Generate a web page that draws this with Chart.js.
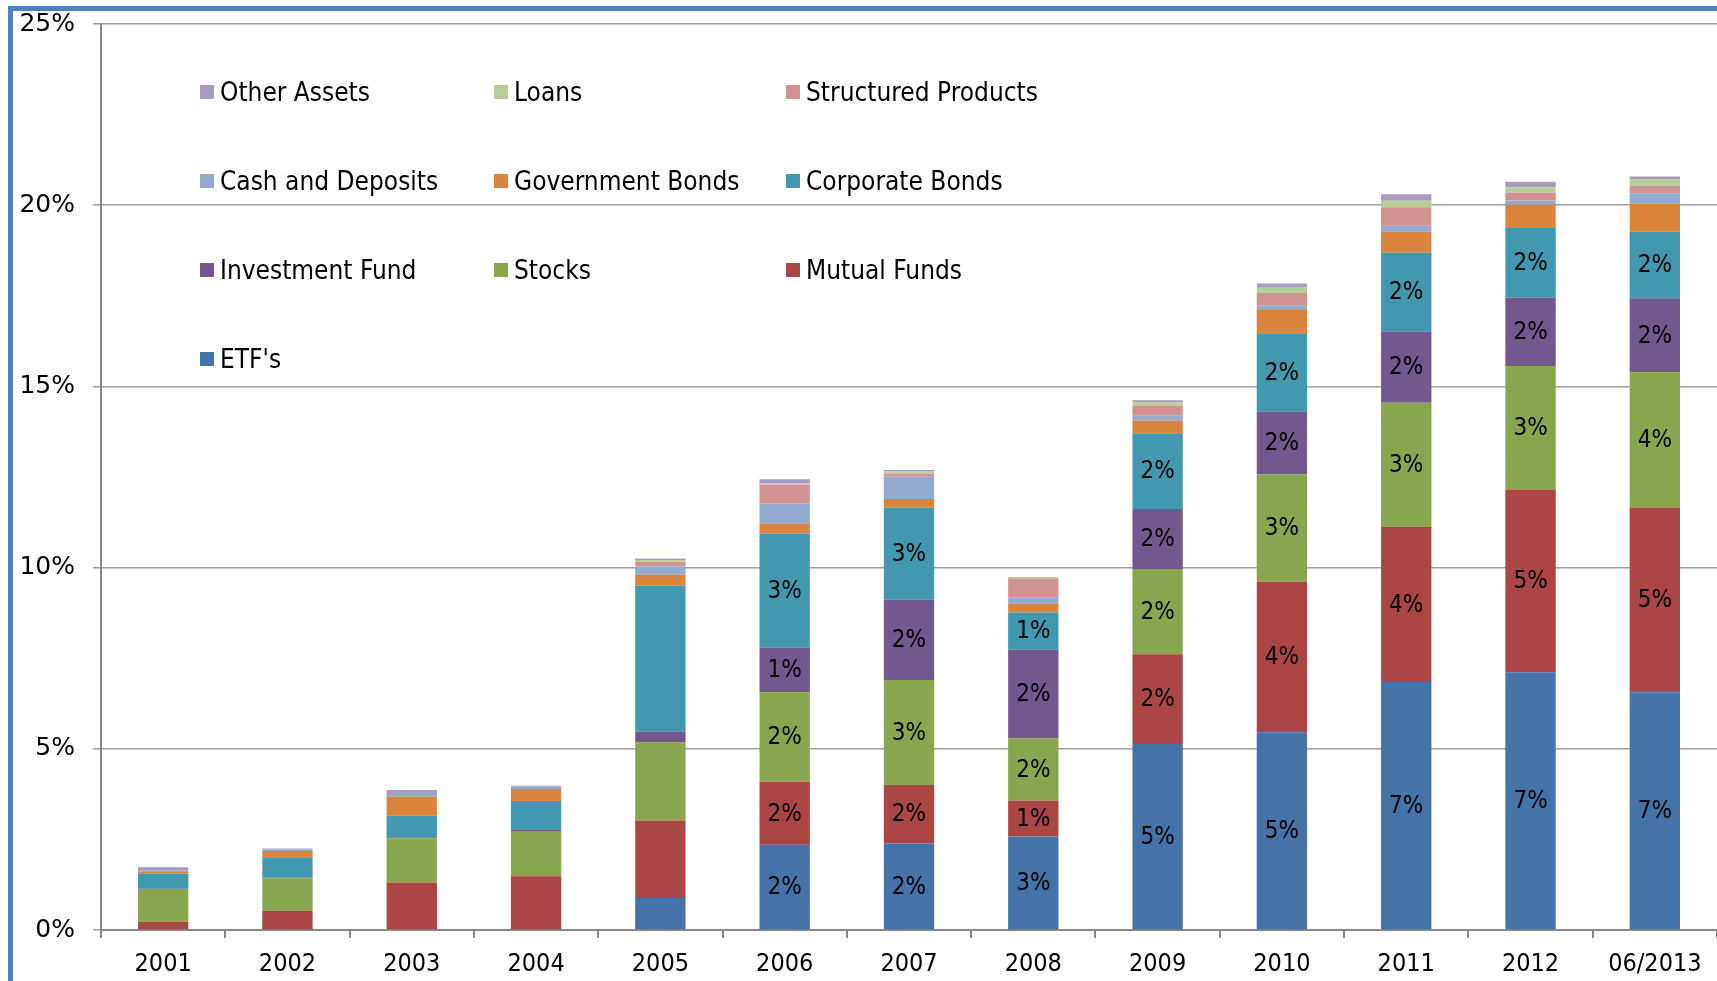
<!DOCTYPE html>
<html>
<head>
<meta charset="utf-8">
<title>Asset classes, % of total</title>
<script src="https://cdn.jsdelivr.net/npm/chart.js@4.4.1/dist/chart.umd.min.js"></script>
<style>
  html, body { margin: 0; padding: 0; background: #fff; }
  #wrap { position: relative; width: 1717px; height: 981px; overflow: hidden; }
  #frame {
    position: absolute; left: 8px; top: 6px; right: -20px; bottom: -20px;
    border-left: 5px solid #4f81bd; border-top: 5px solid #4f81bd;
    pointer-events: none;
  }
  #chart { position: absolute; left: 0; top: 0; }
  .legend-item {
    position: absolute; display: flex; align-items: center; height: 30px;
    font-family: 'DejaVu Sans Condensed', 'DejaVu Sans', sans-serif; font-size: 26px; color: #000;
    white-space: nowrap;
  }
  .legend-item span.box { width: 14px; height: 14px; margin-right: 6px; flex: none; }
</style>
</head>
<body>
<div id="wrap">
  <canvas id="chart" width="1717" height="981"></canvas>
  <div id="frame"></div>
  <div id="legend"></div>
</div>
<script>
const categories = ['2001', '2002', '2003', '2004', '2005', '2006', '2007', '2008', '2009', '2010', '2011', '2012', '06/2013'];

// percent of total, bottom of the stack first
const etfs               = [0, 0, 0, 0, 0.88, 2.35, 2.39, 2.58, 5.13, 5.46, 6.84, 7.11, 6.56];
const mutualFunds        = [0.23, 0.53, 1.31, 1.48, 2.14, 1.74, 1.61, 0.99, 2.48, 4.15, 4.29, 5.03, 5.10];
const stocks             = [0.90, 0.90, 1.22, 1.23, 2.16, 2.47, 2.90, 1.72, 2.35, 2.96, 3.42, 3.42, 3.73];
const investmentFund     = [0.01, 0.02, 0.03, 0.07, 0.29, 1.23, 2.21, 2.44, 1.66, 1.73, 1.96, 1.89, 2.04];
const corporateBonds     = [0.41, 0.54, 0.59, 0.78, 4.03, 3.15, 2.54, 1.03, 2.09, 2.17, 2.18, 1.92, 1.84];
const governmentBonds    = [0.07, 0.19, 0.53, 0.33, 0.30, 0.27, 0.24, 0.24, 0.34, 0.64, 0.58, 0.64, 0.78];
const cashDeposits       = [0.03, 0.04, 0.07, 0.06, 0.23, 0.56, 0.62, 0.18, 0.14, 0.13, 0.16, 0.12, 0.28];
const structuredProducts = [0, 0, 0, 0, 0.13, 0.52, 0.09, 0.51, 0.28, 0.34, 0.51, 0.22, 0.21];
const loans              = [0, 0, 0, 0, 0.05, 0.04, 0.05, 0.05, 0.09, 0.14, 0.18, 0.14, 0.17];
const otherAssets        = [0.08, 0.03, 0.11, 0.03, 0.04, 0.11, 0.04, 0, 0.06, 0.12, 0.18, 0.16, 0.08];

const yTicks = [0, 5, 10, 15, 20, 25];

// value labels are only printed from 2006 on, for the five biggest classes
const labelFromIndex = 5;
const labelledSeries = 5;

const series = [
  { label: "ETF's", data: etfs, color: '#4572a7' },
  { label: 'Mutual Funds', data: mutualFunds, color: '#aa4643' },
  { label: 'Stocks', data: stocks, color: '#89a54e' },
  { label: 'Investment Fund', data: investmentFund, color: '#71588f' },
  { label: 'Corporate Bonds', data: corporateBonds, color: '#4198af' },
  { label: 'Government Bonds', data: governmentBonds, color: '#db843d' },
  { label: 'Cash and Deposits', data: cashDeposits, color: '#93a9cf' },
  { label: 'Structured Products', data: structuredProducts, color: '#d19392' },
  { label: 'Loans', data: loans, color: '#b9cd96' },
  { label: 'Other Assets', data: otherAssets, color: '#a99bbd' }
];

const condensed = "'DejaVu Sans Condensed', 'DejaVu Sans', sans-serif";

// legend: 3 columns, filled top-left with the top of the stack first
const legendEl = document.getElementById('legend');
const legendX = [200, 494, 786];
const legendY = [92, 181, 270, 359];
series.slice().reverse().forEach((s, i) => {
  const item = document.createElement('div');
  item.className = 'legend-item';
  item.style.left = legendX[i % 3] + 'px';
  item.style.top = (legendY[Math.floor(i / 3)] - 15) + 'px';
  item.innerHTML = `<span class="box" style="background:${s.color}"></span><span>${s.label}</span>`;
  legendEl.appendChild(item);
});

const valueLabels = {
  id: 'valueLabels',
  afterDatasetsDraw(chart) {
    const ctx = chart.ctx;
    ctx.save();
    ctx.font = `24px ${condensed}`;
    ctx.fillStyle = '#000';
    ctx.textAlign = 'center';
    ctx.textBaseline = 'middle';
    for (let d = 0; d < labelledSeries; d++) {
      const meta = chart.getDatasetMeta(d);
      meta.data.forEach((bar, i) => {
        if (i < labelFromIndex) return;
        const v = chart.data.datasets[d].data[i];
        ctx.fillText(Math.round(v) + '%', bar.x, (bar.y + bar.base) / 2 + 1);
      });
    }
    ctx.restore();
  }
};

new Chart(document.getElementById('chart'), {
  type: 'bar',
  data: {
    labels: categories,
    datasets: series.map(s => ({
      label: s.label,
      data: s.data,
      backgroundColor: s.color,
      borderWidth: 0,
      barPercentage: 0.405,
      categoryPercentage: 1.0
    }))
  },
  options: {
    responsive: false,
    animation: false,
    devicePixelRatio: 1,
    layout: { padding: { top: 24, right: 0, bottom: 0, left: 0 } },
    plugins: {
      legend: { display: false },
      tooltip: { enabled: false }
    },
    scales: {
      x: {
        stacked: true,
        grid: { drawOnChartArea: false, drawTicks: true, tickLength: 8, color: '#888', lineWidth: 2, offset: true },
        border: { display: true, color: '#888', width: 2 },
        ticks: {
          color: '#000',
          font: { family: condensed, size: 25 },
          padding: 11,
          maxRotation: 0,
          autoSkip: false
        },
        afterFit: (scale) => { scale.height = 51; scale.paddingLeft = 0; scale.paddingRight = 0; }
      },
      y: {
        stacked: true,
        min: 0,
        max: 25,
        afterBuildTicks: (scale) => { scale.ticks = yTicks.map(v => ({ value: v })); },
        ticks: {
          color: '#000',
          font: { family: "'DejaVu Sans', sans-serif", size: 25 },
          padding: 18,
          callback: (v) => v + '%'
        },
        grid: { color: '#a0a0a0', lineWidth: 1.5, tickLength: 8 },
        border: { display: true, color: '#888', width: 2 },
        afterFit: (scale) => { scale.width = 101; scale.paddingTop = 0; scale.paddingBottom = 0; }
      }
    }
  },
  plugins: [valueLabels]
});
</script>
</body>
</html>
